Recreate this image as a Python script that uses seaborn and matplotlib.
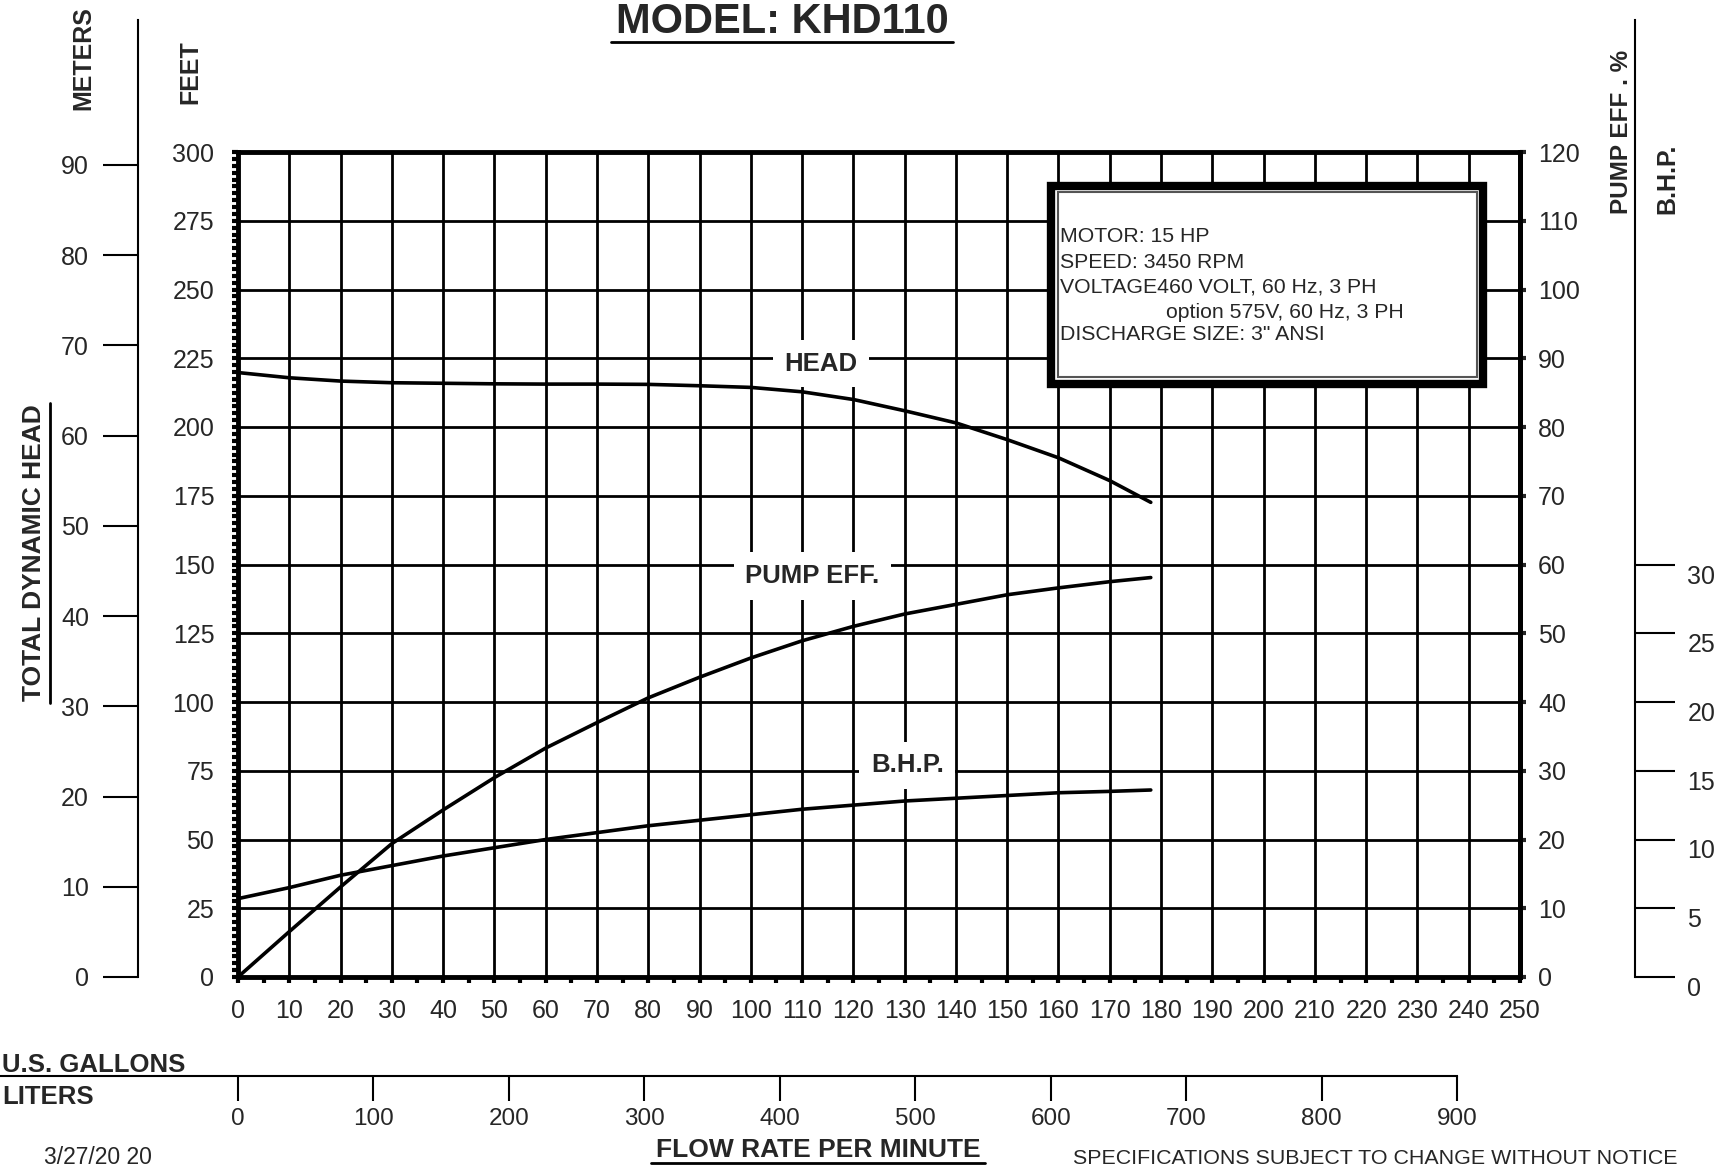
import matplotlib.pyplot as plt
import seaborn as sns
import pandas as pd
from matplotlib.ticker import MultipleLocator, FixedLocator
from matplotlib.patches import Rectangle
from matplotlib.lines import Line2D

# flow rate (US GPM) where the curves were read
gpm = [0, 10, 20, 30, 40, 50, 60, 70, 80, 90, 100, 110, 120, 130, 140, 150, 160, 170, 178]
# total dynamic head (feet)
head_ft = [219.8, 217.9, 216.7, 216.1, 215.9, 215.7, 215.6, 215.6, 215.5, 215.0,
           214.4, 212.8, 210.0, 205.9, 201.5, 195.4, 188.8, 180.5, 172.6]
# pump efficiency (%)
eff_pct = [0, 6.6, 13.1, 19.4, 24.3, 29.0, 33.3, 37.0, 40.6, 43.6,
           46.4, 48.9, 51.0, 52.8, 54.2, 55.6, 56.6, 57.5, 58.1]
# brake horse power
bhp = [5.7, 6.5, 7.4, 8.1, 8.8, 9.4, 10.0, 10.5, 11.0, 11.4,
       11.8, 12.2, 12.5, 12.8, 13.0, 13.2, 13.4, 13.5, 13.6]

feet_ticks = list(range(0, 301, 25))
meter_ticks = list(range(0, 91, 10))
eff_ticks = list(range(0, 121, 10))
bhp_ticks = list(range(0, 31, 5))
gpm_ticks = list(range(0, 251, 10))
liter_ticks = list(range(0, 901, 100))

info_lines = ["MOTOR: 15 HP", "SPEED: 3450 RPM", "VOLTAGE460 VOLT, 60 Hz, 3 PH",
              "option 575V, 60 Hz, 3 PH", 'DISCHARGE SIZE: 3" ANSI']

# figure geometry (pixels)
W, H = 1730, 1169
X0, X1 = 238, 1520
Y0, Y1 = 977, 152
PT = 100 / 72


def fx(px):
    return px / W


def fy(py):
    return 1 - py / H


def axx(px):
    return (px - X0) / (X1 - X0)


def axy(py):
    return (Y0 - py) / (Y0 - Y1)


sns.set_style('white')
plt.rcParams['font.family'] = ['Liberation Sans', 'DejaVu Sans']

df = pd.DataFrame({'gpm': gpm, 'head': head_ft, 'eff': eff_pct, 'bhp': bhp})

fig = plt.figure(figsize=(17.3, 11.69), dpi=100)
ax = fig.add_axes([fx(X0), fy(Y0), (X1 - X0) / W, (Y0 - Y1) / H])

# head curve on the feet axis
sns.lineplot(data=df, x='gpm', y='head', ax=ax, color='black', lw=2.6)
ax.set_xlim(0, 250)
ax.set_ylim(0, 300)
ax.xaxis.set_major_locator(FixedLocator(gpm_ticks))
ax.xaxis.set_minor_locator(MultipleLocator(5))
ax.yaxis.set_major_locator(FixedLocator(feet_ticks))
ax.yaxis.set_minor_locator(MultipleLocator(2.5))
ax.grid(True, which='major', color='black', lw=2)
ax.tick_params(which='both', direction='out', length=4, width=3, color='black',
               labelsize=18, top=False, right=False)
ax.tick_params(axis='x', pad=12)
ax.tick_params(axis='y', pad=13)
for s in ax.spines.values():
    s.set_linewidth(3.5)
    s.set_color('black')
ax.set_xlabel('')
ax.set_ylabel('')

# pump efficiency axis
ax_e = ax.twinx()
sns.lineplot(data=df, x='gpm', y='eff', ax=ax_e, color='black', lw=2.6)
ax_e.set_ylim(0, 120)
ax_e.set_yticks(eff_ticks)
ax_e.tick_params(axis='y', direction='out', length=4, width=3, pad=9, labelsize=18)
for k in ['top', 'left', 'bottom']:
    ax_e.spines[k].set_visible(False)
ax_e.spines['right'].set_linewidth(3.5)
ax_e.spines['right'].set_color('black')
ax_e.set_ylabel('')

# brake horse power axis
ax_b = ax.twinx()
sns.lineplot(data=df, x='gpm', y='bhp', ax=ax_b, color='black', lw=2.6)
ax_b.set_ylim(0, 60)
for k in ['top', 'left', 'bottom']:
    ax_b.spines[k].set_visible(False)
ax_b.spines['right'].set_position(('outward', (1635 - X1) / PT))
ax_b.spines['right'].set_bounds(0, axy(20) * 60)
ax_b.spines['right'].set_linewidth(1.5)
ax_b.spines['right'].set_color('black')
ax_b.set_yticks(bhp_ticks, [str(v) for v in bhp_ticks], va='top')
ax_b.tick_params(axis='y', direction='out', length=40 / PT, width=1.5, pad=9,
                 labelsize=18, color='black')
ax_b.set_ylabel('')

# meters axis
ax_m = ax.twinx()
ax_m.set_ylim(0, 300 * 0.3048)
ax_m.yaxis.tick_left()
for k in ['top', 'right', 'bottom']:
    ax_m.spines[k].set_visible(False)
ax_m.spines['left'].set_visible(True)
ax_m.spines['left'].set_position(('outward', (X0 - 138) / PT))
ax_m.spines['left'].set_bounds(0, axy(20) * 300 * 0.3048)
ax_m.spines['left'].set_linewidth(1.5)
ax_m.spines['left'].set_color('black')
ax_m.set_yticks(meter_ticks)
ax_m.tick_params(axis='y', direction='out', length=35 / PT, width=1.5, pad=10,
                 labelsize=18, color='black', left=True, labelleft=True,
                 right=False, labelright=False)

# liters axis
lpm_max = 250 * 3.78541
ax_l = ax.twiny()
ax_l.set_xlim(0, lpm_max)
ax_l.xaxis.tick_bottom()
for k in ['top', 'left', 'right']:
    ax_l.spines[k].set_visible(False)
ax_l.spines['bottom'].set_visible(True)
ax_l.spines['bottom'].set_position(('outward', (1076 - Y0) / PT))
ax_l.spines['bottom'].set_bounds(-X0 * lpm_max / (X1 - X0), 900)
ax_l.spines['bottom'].set_linewidth(1.5)
ax_l.spines['bottom'].set_color('black')
ax_l.set_xticks(liter_ticks)
ax_l.tick_params(axis='x', direction='out', length=25 / PT, width=1.5, pad=5,
                 labelsize=17.5, color='black', bottom=True, labelbottom=True,
                 top=False, labeltop=False)

# curve labels
lab_box = dict(boxstyle='square,pad=0.45', fc='white', ec='none')
ax.text(113.7, 223, 'HEAD', ha='center', va='center', fontsize=18.5,
        fontweight='bold', bbox=lab_box, zorder=6)
ax.text(112, 145.8, 'PUMP EFF.', ha='center', va='center', fontsize=18.5,
        fontweight='bold', bbox=lab_box, zorder=6)
ax.text(130.5, 77, 'B.H.P.', ha='center', va='center', fontsize=18.5,
        fontweight='bold', bbox=lab_box, zorder=6)

# info box
ax.add_patch(Rectangle((axx(1050.5), axy(384)), axx(1482.5) - axx(1050.5),
                       axy(185.5) - axy(384), transform=ax.transAxes,
                       fc='white', ec='black', lw=6, zorder=5, clip_on=False))
ax.add_patch(Rectangle((axx(1058), axy(377)), axx(1477) - axx(1058),
                       axy(192) - axy(377), transform=ax.transAxes,
                       fc='none', ec='#555555', lw=1.5, zorder=5.5, clip_on=False))
line_y = [237, 262, 287, 312, 335]
line_x = [1060, 1060, 1060, 1166, 1060]
for txt, lx, ly in zip(info_lines, line_x, line_y):
    ax.text(axx(lx), axy(ly), txt, transform=ax.transAxes, ha='left', va='center',
            fontsize=15.3, zorder=6)

# titles and side labels
fig.text(fx(782), fy(33), 'MODEL: KHD110', ha='center', va='baseline',
         fontsize=30, fontweight='bold')
fig.add_artist(Line2D([fx(611), fx(953)], [fy(42), fy(42)], color='black', lw=2))

fig.text(fx(83), fy(110), 'METERS', rotation=90, ha='center', va='bottom',
         fontsize=18, fontweight='bold')
fig.text(fx(190), fy(104), 'FEET', rotation=90, ha='center', va='bottom',
         fontsize=18, fontweight='bold')
fig.text(fx(34), fy(553), 'TOTAL DYNAMIC HEAD', rotation=90, ha='center',
         va='center', fontsize=19, fontweight='bold')
fig.add_artist(Line2D([fx(50), fx(50)], [fy(403), fy(703)], color='black', lw=2))

fig.text(fx(1622), fy(214), 'PUMP EFF . %', rotation=90, ha='center', va='bottom',
         fontsize=17.5, fontweight='bold')
fig.text(fx(1667), fy(214), 'B.H.P.', rotation=90, ha='center', va='bottom',
         fontsize=18, fontweight='bold')

fig.text(fx(2), fy(1065), 'U.S. GALLONS', ha='left', va='center', fontsize=18.5,
         fontweight='bold')
fig.text(fx(2), fy(1097), 'LITERS', ha='left', va='center', fontsize=18.5,
         fontweight='bold')
fig.text(fx(818), fy(1150), 'FLOW RATE PER MINUTE', ha='center', va='center',
         fontsize=19, fontweight='bold')
fig.add_artist(Line2D([fx(651), fx(985)], [fy(1163), fy(1163)], color='black', lw=2))
fig.text(fx(44), fy(1158), '3/27/20 20', ha='left', va='center', fontsize=16.5)
fig.text(fx(1073), fy(1158), 'SPECIFICATIONS SUBJECT TO CHANGE WITHOUT NOTICE',
         ha='left', va='center', fontsize=15.4)

fig.savefig('out.png', dpi=100, facecolor='white')
